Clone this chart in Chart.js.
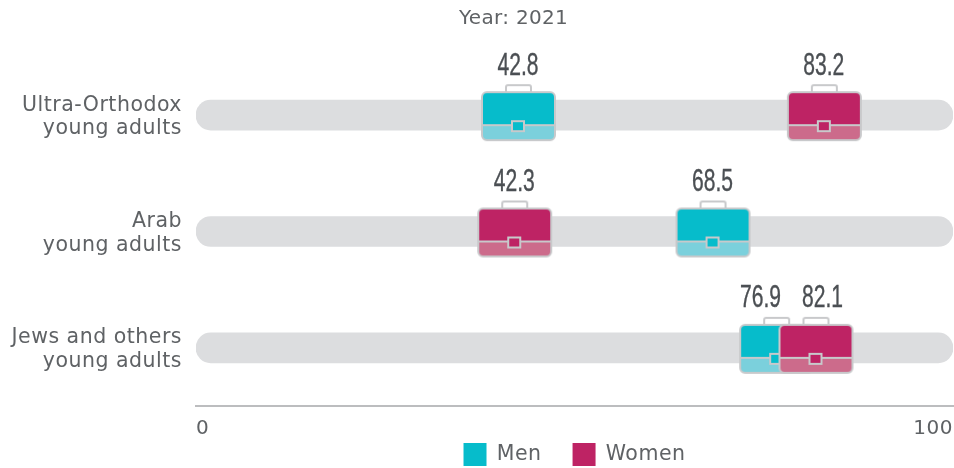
<!DOCTYPE html>
<html><head><meta charset="utf-8">
<style>html,body{margin:0;padding:0;background:#fff}#w{width:954px;height:468px;position:relative}</style>
<script src="https://cdn.jsdelivr.net/npm/chart.js@4"></script></head>
<body><div id="w"><canvas id="c" width="954" height="468"></canvas></div>
<script>
const categories=[["Ultra-Orthodox","young adults"],["Arab","young adults"],["Jews and others","young adults"]];
const menValues=[42.8,68.5,76.9];
const womenValues=[83.2,42.3,82.1];
const trackRange=[0,100];
const xTicks=[0,100];
const titleText="Year: 2021";
const seriesNames=["Men","Women"];
const TEXT="#5f6265",MEN="#06bccb",WOMEN="#be2364",MEN_L="#7bd0dc",WOMEN_L="#cc6b8b",EDGE="#c8c9cb";
const FONT="DejaVu Sans",TRACK_SP='0.5px';
function briefcase(top,low){
  const k=document.createElement('canvas');k.width=80;k.height=64;const g=k.getContext('2d');
  const l=2,r=75,t=9,b=57,d=42;
  g.strokeStyle=EDGE;g.lineWidth=2;
  g.beginPath();g.roundRect(26,2,25,t-1,2);g.stroke();
  g.save();g.beginPath();g.roundRect(l,t,r-l,b-t,5);g.clip();
  g.fillStyle=top;g.fillRect(l,t,r-l,d-t);
  g.fillStyle=low;g.fillRect(l,d,r-l,b-d);g.restore();
  g.beginPath();g.roundRect(l,t,r-l,b-t,5);g.stroke();
  g.beginPath();g.moveTo(l,d);g.lineTo(r,d);g.stroke();
  g.fillStyle=top;g.beginPath();g.rect(32,38,12,10);g.fill();g.stroke();
  return k;
}
const extras={id:'extras',
  beforeUpdate(c){c.ctx.letterSpacing=TRACK_SP},
  beforeDraw(c){c.ctx.letterSpacing=TRACK_SP},
  beforeLayout(c){
    const L=c.legend;
    if(L&&!L._wrapped){const f=L.fit;L.fit=function(){f.call(this);this.height=56;this.minSize&&(this.minSize.height=56)};L._wrapped=true}
  },
  afterDraw(c){
    const g=c.ctx;g.save();
    g.letterSpacing='0.3px';g.font='20px "'+FONT+'"';g.fillStyle=TEXT;g.textAlign='center';g.textBaseline='middle';
    g.fillText(titleText,513.5,19);
    g.letterSpacing='0px';g.font='31px "Liberation Sans"';g.fillStyle="#4b4f53";g.strokeStyle="#4b4f53";g.lineWidth=0.4;
    const put=(s,x,y)=>{g.save();g.translate(x,y);g.scale(0.68,1);g.fillText(s,0,0);g.strokeText(s,0,0);g.restore()};
    categories.forEach((_,i)=>{
      const m=c.getDatasetMeta(1).data[i],w=c.getDatasetMeta(2).data[i];
      let xs=[m.x-2,w.x-2];
      if(Math.abs(xs[0]-xs[1])<62){
        const hi=Math.max(...xs)+7,lo=hi-62;
        xs=xs[0]<xs[1]?[lo,hi]:[hi,lo];
      }
      put(menValues[i].toFixed(1),xs[0],m.y-49);
      put(womenValues[i].toFixed(1),xs[1],w.y-49);
    });
    g.restore();
  }};
new Chart(document.getElementById('c'),{
  type:'bar',
  plugins:[extras],
  data:{labels:categories,datasets:[
    {type:'bar',label:'track',data:categories.map(()=>trackRange),backgroundColor:"#dcdddf",barThickness:30,borderRadius:15,borderSkipped:false,order:3},
    {type:'scatter',label:seriesNames[0],data:menValues.map((v,i)=>({x:v,y:i})),backgroundColor:MEN,pointStyle:briefcase(MEN,MEN_L),clip:false,order:2},
    {type:'scatter',label:seriesNames[1],data:womenValues.map((v,i)=>({x:v,y:i})),backgroundColor:WOMEN,pointStyle:briefcase(WOMEN,WOMEN_L),clip:false,order:1}
  ]},
  options:{
    indexAxis:'y',responsive:false,animation:false,
    layout:{autoPadding:false,padding:{top:57,right:1,left:0,bottom:0}},
    scales:{
      x:{type:'linear',min:0,max:100,afterBuildTicks(s){s.ticks=xTicks.map(v=>({value:v}))},
         afterFit(s){s.height=6;s.paddingLeft=0;s.paddingRight=0;s._computeLabelArea=()=>null},
         grid:{display:false},border:{display:true,color:"#bcbdbf",width:2},
         ticks:{align:'inner',color:TEXT,font:{family:FONT,size:20},padding:3,maxRotation:0}},
      y:{type:'category',offset:true,afterFit(s){s.width=196;s.paddingTop=0;s.paddingBottom=0},grid:{display:false},border:{display:false},
         ticks:{color:TEXT,font:{family:FONT,size:20.5,lineHeight:1.17},padding:6,labelOffset:2,crossAlign:'near'}}
    },
    plugins:{
      tooltip:{enabled:false},
      title:{display:false},
      legend:{display:true,position:'bottom',fullSize:false,
        labels:{boxWidth:23,boxHeight:23,color:TEXT,font:{family:FONT,size:20.5},padding:31,filter:i=>i.text!=='track',
          generateLabels(c){return c.data.datasets.map((d,i)=>({text:d.label,fillStyle:d.backgroundColor,strokeStyle:'transparent',lineWidth:0,datasetIndex:i,fontColor:TEXT}))}}}
    }
  }
});
</script></body></html>
